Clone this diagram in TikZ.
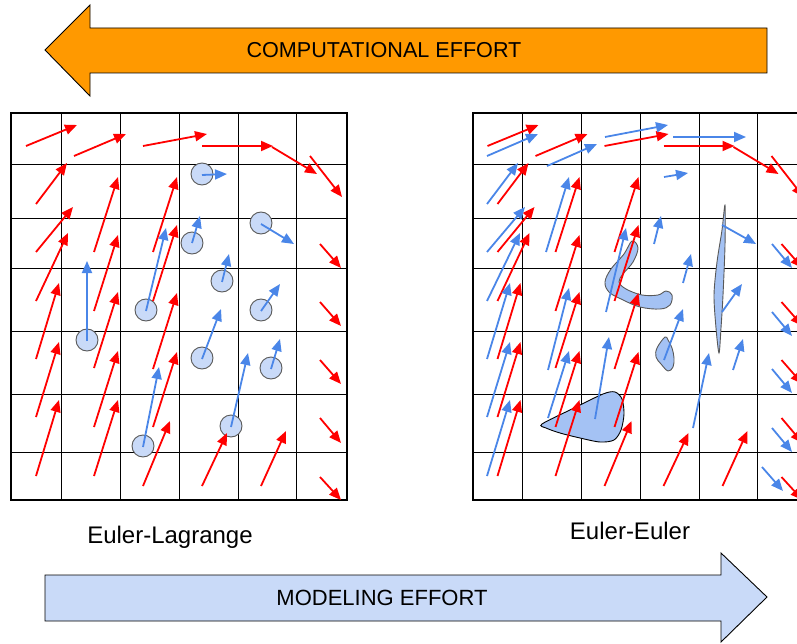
\documentclass[tikz,border=0pt]{standalone}
\usepackage{fontspec}
\setmainfont{Liberation Sans}
\usetikzlibrary{arrows.meta}
\definecolor{gred}{HTML}{FF0000}
\definecolor{gblue}{HTML}{4A86E8}
\definecolor{gorange}{HTML}{FF9900}
\definecolor{pale}{HTML}{C9DAF8}
\definecolor{blobblue}{HTML}{A4C2F4}
\definecolor{rim}{HTML}{595959}

\begin{document}
\begin{tikzpicture}[x=1pt, y=-1pt,
    vec/.style={line width=1.8pt, -{Triangle[length=12pt,width=10pt]}},
    flow/.style={vec, gred},
    phase/.style={vec, gblue},
    particle/.style={fill=pale, draw=rim, line width=0.9pt},
    blob/.style={fill=blobblue, draw=rim, line width=0.9pt},
    banner/.style={draw=black, line width=0.9pt},
    caption/.style={font=\fontsize{24}{28}\selectfont}]
  \useasboundingbox (0,0) rectangle (797,644);
  \def\shift{461.5pt}
  \def\grid{%
    \foreach \x in {61,120,179,238,296} \draw[line width=1pt] (\x,113) -- (\x,500);
    \foreach \y in {165,219,268,331,394,452} \draw[line width=1pt] (11,\y) -- (347,\y);
    \draw[line width=2pt] (11,113) rectangle (347,500);}
  \def\redfield{%
    \foreach \xa/\ya/\xb/\yb in {26/146/77/125, 74/156/126/134, 143/146/207/134,
        202/146/273/146, 272/147/317/174, 310/156/342/197,
        36/204/67/163, 36/252/73/207, 36/301/68/233, 36/359/59/283,
        36/417/59/342, 36/476/59/400,
        94/252/118/177, 94/311/118/235, 94/368/118/292, 94/427/118/351, 94/476/118/400,
        153/252/177/177, 153/301/177/225, 153/369/177/293, 153/427/177/352,
        143/486/170/421, 202/486/227/433, 261/486/286/431,
        320/244/341/268, 320/302/341/326, 320/360/341/384, 320/418/341/443, 320/477/341/500}
      \draw[flow] (\xa,\ya) -- (\xb,\yb);}

  % effort banners
  \draw[banner, fill=gorange] (45,50) -- (90,5) -- (90,28) -- (767,28) -- (767,73)
    -- (90,73) -- (90,96) -- cycle;
  \node[font=\fontsize{21.6}{24}\selectfont] (cost) at (384,50) {COMPUTATIONAL EFFORT};
  \draw[banner, fill=pale] (45,575) -- (721,575) -- (721,553) -- (767,597)
    -- (721,642) -- (721,621) -- (45,621) -- cycle;
  \node[font=\fontsize{22}{24}\selectfont] (model) at (382,598) {MODELING EFFORT};

  % Euler-Lagrange
  \grid
  \foreach \cx/\cy in {202/174, 192/243, 261/223, 222/281, 146/310, 261/310,
      87/340, 202/358, 271/368, 231/426, 143/446}
    \draw[particle] (\cx,\cy) circle (11);
  \redfield
  \foreach \cx/\cy/\ex/\ey in {202/175/227/174, 192/243/200/216, 261/224/294/244,
      222/282/229/254, 146/311/166/228, 261/311/280/284, 87/341/87/261,
      202/359/221/309, 271/369/280/339, 231/427/248/353, 143/447/159/367}
    \draw[phase] (\cx,\cy) -- (\ex,\ey);
  \node[caption] (el) at (170,537) {Euler-Lagrange};

  % Euler-Euler
  \begin{scope}
    \clip (0,0) rectangle (797,644);
    \begin{scope}[xshift=\shift] \grid \end{scope}
    \draw[blob] plot[smooth cycle, tension=0.6] coordinates {(632,241) (624,254)
      (611,269) (605,282) (609,292) (621,299) (640,307) (660,309) (670,305)
      (672,295) (666,291) (658,295) (642,295) (626,289) (619,282) (623,274)
      (633,262) (638,248)};
    \draw[blob, draw=black] plot[smooth cycle, tension=0.5] coordinates {(542,424)
      (572,409) (603,394) (615,392) (622,399) (624,414) (621,430) (614,440)
      (600,442) (580,438) (560,433) (546,428)};
    \draw[blob] plot[smooth cycle, tension=0.6] coordinates {(665,337) (657,348)
      (656,357) (661,364) (668,371) (673,367) (674,358) (672,348) (668,340)};
    \draw[blob] plot[smooth cycle, tension=0.5] coordinates {(725,205) (722,230)
      (717,262) (714,295) (716,328) (719,353) (721,328) (723,295) (725,245)};
    \begin{scope}[xshift=\shift] \redfield \end{scope}
    \foreach \xa/\ya/\xb/\yb in {487/156/538/134, 547/166/597/144, 605/137/668/125,
        673/137/746/137, 487/204/518/163, 487/252/525/207, 487/301/520/233,
        487/359/510/283, 487/417/510/342, 487/476/510/400,
        546/252/569/177, 548/370/569/288, 548/418/569/351,
        606/312/626/228, 595/419/609/337,
        664/177/688/173, 654/244/661/216, 683/283/691/254, 664/360/683/309,
        693/428/709/353, 722/225/756/244, 722/312/742/284, 733/370/743/339,
        772/244/792/268, 772/312/792/336, 772/369/792/393, 772/428/792/452,
        762/467/783/491}
      \draw[phase] (\xa,\ya) -- (\xb,\yb);
  \end{scope}
  \node[caption] (ee) at (630,531) {Euler-Euler};
\end{tikzpicture}
\end{document}
